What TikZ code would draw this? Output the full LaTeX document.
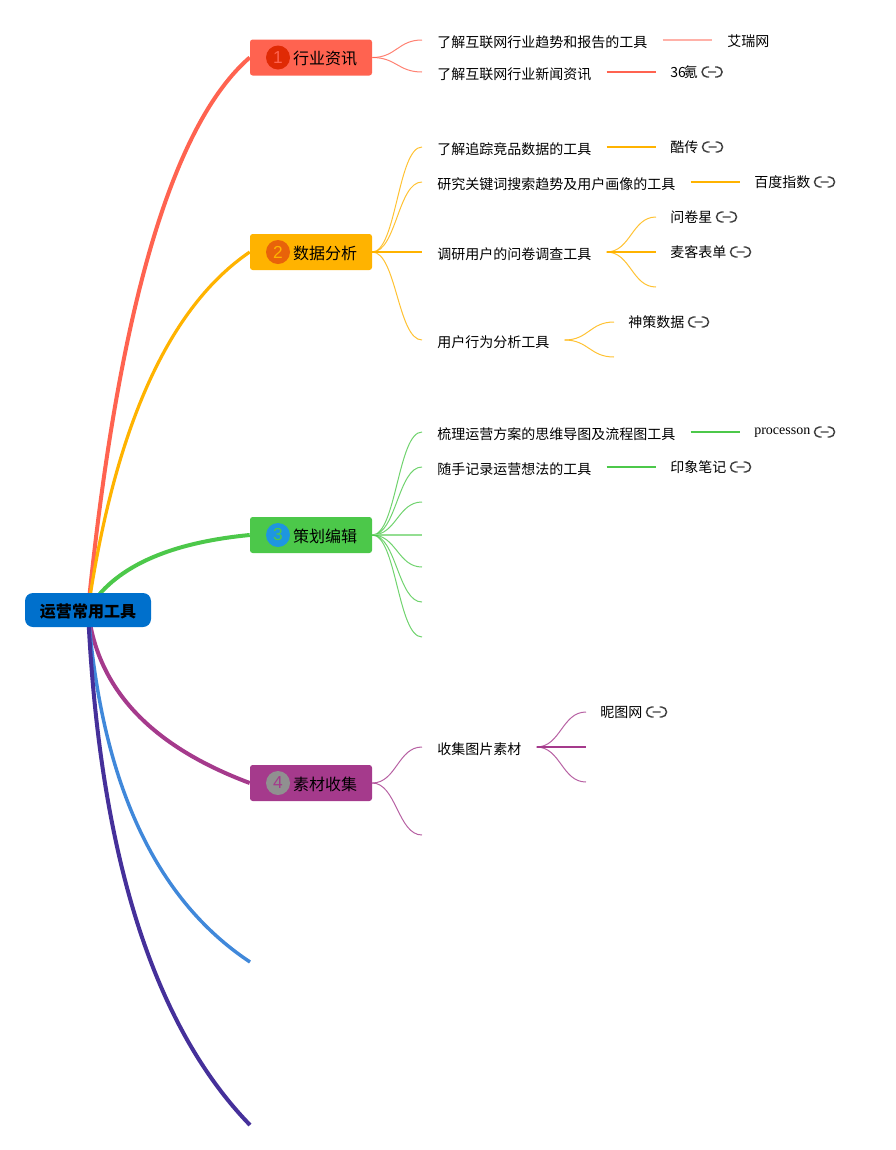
\documentclass[tikz,border=0pt]{standalone}
\usepackage{fontspec}
\setmainfont{Liberation Serif}
\newfontfamily\cjk{Noto Sans CJK SC}
\newfontfamily\numfont{Liberation Sans}
\usetikzlibrary{backgrounds}
\definecolor{rootc}{HTML}{0070CC}
\definecolor{redc}{HTML}{FF6350}
\definecolor{yellowc}{HTML}{FFB300}
\definecolor{greenc}{HTML}{4CC84A}
\definecolor{purplec}{HTML}{A53A8C}
\definecolor{bluec}{HTML}{4088DA}
\definecolor{indigoc}{HTML}{45309A}
\definecolor{dotred}{HTML}{E02A05}
\definecolor{dotorange}{HTML}{E8630A}
\definecolor{dotblue}{HTML}{1E96E0}
\definecolor{dotgray}{HTML}{909090}
\tikzset{
  rootbox/.style={fill=rootc,rounded corners=6pt,minimum width=94.5pt,minimum height=25.5pt,inner sep=0pt,text height=12pt,text depth=1.4pt,font=\cjk\bfseries\fontsize{12}{14}\selectfont},
  mainbox/.style={rounded corners=2pt,minimum width=91.5pt,minimum height=27pt,inner sep=0pt,text height=12pt,text depth=1.4pt,font=\cjk\fontsize{12}{14}\selectfont},
  numdot/.style={circle,minimum size=18pt,inner sep=0pt,font=\numfont\fontsize{13}{14}\selectfont},
  topic/.style={anchor=west,inner xsep=11.25pt,inner ysep=0pt,text height=12pt,text depth=.3pt,font=\fontsize{10.5}{12}\selectfont\cjk},
  leaf/.style={anchor=west,inner xsep=10.5pt,inner ysep=0pt,text height=9pt,text depth=1.5pt,font=\fontsize{10.5}{12}\selectfont\cjk},
  trunk/.style={line width=3pt},
  twig/.style={line width=.75pt,opacity=.8,out=0,in=180,distance=18pt},
  stem/.style={line width=.8pt},
  linkicon/.pic={
    \draw[line width=1.1pt,draw=black!75]
      (-3,-5) -- (-5,-5) arc[start angle=270,end angle=90,radius=5] -- (-3,5)
      (3,5) -- (5,5) arc[start angle=90,end angle=-90,radius=5] -- (3,-5)
      (-4,0) -- (4,0);
  }
}
\begin{document}
\begin{tikzpicture}[x=.75pt,y=-.75pt]
  \useasboundingbox (0,0) rectangle (896,1150);
  \node[rootbox] (root) at (88,610) {运营常用工具};
  % main boxes
  \node[mainbox,fill=redc] (b1) at (311,57.5) {\hspace{21pt}行业资讯};
  \node[mainbox,fill=yellowc] (b2) at (311,252) {\hspace{21pt}数据分析};
  \node[mainbox,fill=greenc] (b3) at (311,535) {\hspace{21pt}策划编辑};
  \node[mainbox,fill=purplec] (b4) at (311,783) {\hspace{21pt}素材收集};
  \node[numdot,fill=dotred,text=redc] (d1) at (278,57.5) {1};
  \node[numdot,fill=dotorange,text=yellowc] (d2) at (278,252) {2};
  \node[numdot,fill=dotblue,text=greenc] (d3) at (278,535) {3};
  \node[numdot,fill=dotgray,text=purplec] (d4) at (278,783) {4};
  % topics
  \node[topic] (t11) at (422,40) {了解互联网行业趋势和报告的工具};
  \node[topic] (t12) at (422,72) {了解互联网行业新闻资讯};
  \node[topic] (t21) at (422,147) {了解追踪竞品数据的工具};
  \node[topic] (t22) at (422,182) {研究关键词搜索趋势及用户画像的工具};
  \node[topic] (t23) at (422,252) {调研用户的问卷调查工具};
  \node[topic] (t24) at (422,340) {用户行为分析工具};
  \node[topic] (t31) at (422,432) {梳理运营方案的思维导图及流程图工具};
  \node[topic] (t32) at (422,467) {随手记录运营想法的工具};
  \node[topic] (t41) at (422,747) {收集图片素材};
  % leaves
  \node[topic,text height=10.5pt] (l111) at (712,40) {艾瑞网};
  \node[leaf] (l121) at (656,72) {36\hspace{-1.5pt}{\cjk 氪}};
  \node[leaf] (l211) at (656,147) {酷传};
  \node[leaf] (l221) at (740,182) {百度指数};
  \node[leaf] (l231) at (656,217) {问卷星};
  \node[leaf] (l232) at (656,252) {麦客表单};
  \node[leaf] (l241) at (614,322) {神策数据};
  \node[leaf,text height=6.5pt,text depth=3pt,font=\fontsize{10.5}{12}\selectfont] (l311) at (740,432) {processon};
  \node[leaf] (l321) at (656,467) {印象笔记};
  \node[leaf] (l411) at (586,712) {昵图网};
  \foreach \leafname in {l121,l211,l221,l231,l232,l241,l311,l321,l411}
    \pic at (\leafname.east) {linkicon};
  % free ends
  \coordinate (e5) at (250,962);
  \coordinate (e6) at (250,1125);
  \coordinate (e233) at (656,287);
  \coordinate (e242) at (614,357);
  \coordinate (e33) at (422,502);
  \coordinate (e34) at (422,535);
  \coordinate (e35) at (422,567);
  \coordinate (e36) at (422,602);
  \coordinate (e37) at (422,637);
  \coordinate (e42) at (422,835);
  \coordinate (e412) at (586,747);
  \coordinate (e413) at (586,782);
  \begin{scope}[on background layer]
    \draw[trunk,redc] (root.center) .. controls (118,310) and (172,125) .. (b1.west);
    \draw[trunk,yellowc,line width=2.4pt] (root.center) .. controls (115,426) and (169,307) .. (b2.west);
    \draw[trunk,greenc] (root.center) .. controls (113,568) and (167,543) .. (b3.west);
    \draw[trunk,purplec] (root.center) .. controls (97,689) and (151,746) .. (b4.west);
    \draw[trunk,bluec,line width=2.6pt] (root.center) .. controls (101,782) and (155,899) .. (e5);
    \draw[trunk,indigoc] (root.center) .. controls (99,853) and (153,1025) .. (e6);
  \end{scope}
  % red
  \draw[twig,redc] (b1.east) to (t11.west);
  \draw[twig,redc] (b1.east) to (t12.west);
  \draw[stem,redc!50] (t11.east) -- (l111.west);
  \draw[stem,redc] (t12.east) -- (l121.west);
  % yellow
  \draw[twig,yellowc] (b2.east) to (t21.west);
  \draw[twig,yellowc] (b2.east) to (t22.west);
  \draw[stem,yellowc] (b2.east) -- (t23.west);
  \draw[twig,yellowc] (b2.east) to (t24.west);
  \draw[stem,yellowc] (t21.east) -- (l211.west);
  \draw[stem,yellowc] (t22.east) -- (l221.west);
  \draw[twig,yellowc] (t23.east) to (l231.west);
  \draw[stem,yellowc] (t23.east) -- (l232.west);
  \draw[twig,yellowc] (t23.east) to (e233);
  \draw[twig,yellowc] (t24.east) to (l241.west);
  \draw[twig,yellowc] (t24.east) to (e242);
  % green
  \draw[twig,greenc] (b3.east) to (t31.west);
  \draw[twig,greenc] (b3.east) to (t32.west);
  \draw[twig,greenc] (b3.east) to (e33);
  \draw[stem,greenc!60] (b3.east) -- (e34);
  \draw[twig,greenc] (b3.east) to (e35);
  \draw[twig,greenc] (b3.east) to (e36);
  \draw[twig,greenc] (b3.east) to (e37);
  \draw[stem,greenc] (t31.east) -- (l311.west);
  \draw[stem,greenc] (t32.east) -- (l321.west);
  % purple
  \draw[twig,purplec] (b4.east) to (t41.west);
  \draw[twig,purplec] (b4.east) to (e42);
  \draw[twig,purplec] (t41.east) to (l411.west);
  \draw[stem,purplec] (t41.east) -- (e412);
  \draw[twig,purplec] (t41.east) to (e413);
\end{tikzpicture}
\end{document}
